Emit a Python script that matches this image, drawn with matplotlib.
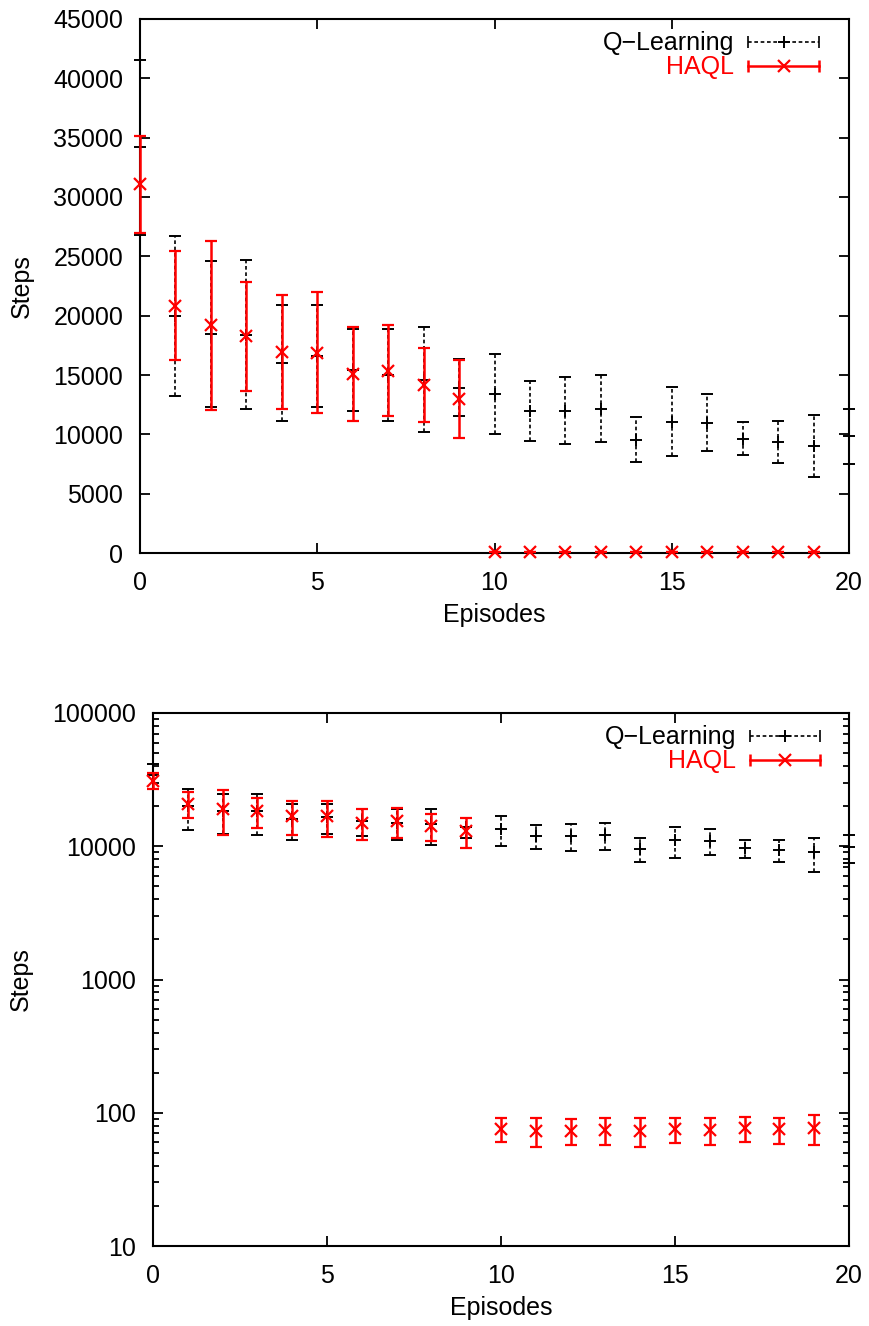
import matplotlib
matplotlib.use("Agg")
import matplotlib.pyplot as plt
from matplotlib.ticker import FixedLocator, LogLocator, NullFormatter
import numpy as np

plt.rcParams['font.family'] = ['Liberation Sans', 'DejaVu Sans']

# ---- data ----
ql_episodes = list(range(21))
ql_mean = [34200, 20000, 18430, 18400, 16020, 16570, 15450, 15030, 14610, 13920,
           13400, 12000, 12000, 12170, 9560, 11070, 10990, 9640, 9370, 9000, 9820]
ql_err = [7370, 6750, 6140, 6300, 4900, 4300, 3460, 3880, 4430, 2410,
          3350, 2520, 2800, 2830, 1880, 2880, 2410, 1415, 1780, 2590, 2290]

haql_episodes = list(range(20))
haql_mean = [31080, 20840, 19190, 18250, 16960, 16870, 15060, 15360, 14160, 12950,
             76, 73, 73, 74.5, 73.5, 75.6, 74.5, 76.6, 75, 76.7]
haql_err = [4100, 4600, 7100, 4600, 4800, 5100, 3950, 3850, 3150, 3300,
            16, 18, 16, 17, 18, 16, 17, 16, 16.6, 19]

lin_yticks = list(range(0, 45001, 5000))
log_yticks = [10, 100, 1000, 10000, 100000]
xticks = [0, 5, 10, 15, 20]

FS = 18
W, H = 869, 1326
fig = plt.figure(figsize=(W / 100, H / 100), dpi=100)

def axes_px(l, r, t, b):
    return fig.add_axes([l / W, 1 - b / H, (r - l) / W, (b - t) / H])

ax1 = axes_px(140, 849, 19, 553)
ax2 = axes_px(153, 849, 713, 1246)

def draw(ax):
    e1 = ax.errorbar(ql_episodes, ql_mean, yerr=ql_err, fmt='+', color='black',
                     ms=9, mew=1.4, elinewidth=1.2, capsize=4, capthick=1.2,
                     clip_on=False, zorder=3)
    for c in e1[2]:
        c.set_linestyle((0, (2.2, 1.6)))
        c.set_clip_on(False)
    for c in e1[1]:
        c.set_clip_on(False)
    e2 = ax.errorbar(haql_episodes, haql_mean, yerr=haql_err, fmt='x', color='red',
                     ms=8.5, mew=1.6, elinewidth=1.8, capsize=4, capthick=1.8,
                     clip_on=False, zorder=4)
    for c in e2[2]:
        c.set_clip_on(False)
    for c in e2[1]:
        c.set_clip_on(False)

    ax.set_xlim(0, 20)
    ax.xaxis.set_major_locator(FixedLocator(xticks))
    ax.set_xlabel('Episodes', fontsize=FS, labelpad=6)
    ax.set_ylabel('Steps', fontsize=FS, labelpad=14)
    ax.tick_params(which='both', direction='in', top=True, right=True,
                   labelsize=FS, width=1.3)
    ax.tick_params(which='major', length=7.5)
    ax.tick_params(which='minor', length=4)
    ax.tick_params(axis='x', pad=13)
    ax.tick_params(axis='y', pad=12)
    for s in ax.spines.values():
        s.set_linewidth(1.5)

    # legend (manual, gnuplot style)
    tr = ax.transAxes
    ax.text(0.838, 0.955, 'Q\u2212Learning', transform=tr, ha='right', va='center',
            fontsize=FS, color='black')
    ax.text(0.838, 0.910, 'HAQL', transform=tr, ha='right', va='center',
            fontsize=FS, color='red')
    x0, x1 = 0.858, 0.958
    ax.plot([x0, x1], [0.957, 0.957], transform=tr, color='black', lw=1.2,
            ls=(0, (2.2, 1.6)), clip_on=False)
    ax.plot([x0, x1], [0.957, 0.957], transform=tr, ls='none', marker='|',
            ms=8, mew=1.2, color='black', clip_on=False)
    ax.plot([(x0 + x1) / 2], [0.957], transform=tr, marker='+', ms=9, mew=1.4,
            color='black', clip_on=False)
    ax.plot([x0, x1], [0.912, 0.912], transform=tr, color='red', lw=1.8, clip_on=False)
    ax.plot([x0, x1], [0.912, 0.912], transform=tr, ls='none', marker='|',
            ms=8, mew=1.8, color='red', clip_on=False)
    ax.plot([(x0 + x1) / 2], [0.912], transform=tr, marker='x', ms=8.5, mew=1.6,
            color='red', clip_on=False)

draw(ax1)
ax1.set_ylim(0, 45000)
ax1.yaxis.set_major_locator(FixedLocator(lin_yticks))
ax1.set_yticklabels([str(v) for v in lin_yticks])

draw(ax2)
ax2.set_yscale('log')
ax2.set_ylim(10, 100000)
ax2.yaxis.set_major_locator(FixedLocator(log_yticks))
ax2.set_yticklabels([str(v) for v in log_yticks])
ax2.yaxis.set_minor_locator(LogLocator(base=10, subs=np.arange(2, 10)))
ax2.yaxis.set_minor_formatter(NullFormatter())

fig.savefig('out.png', dpi=100)
